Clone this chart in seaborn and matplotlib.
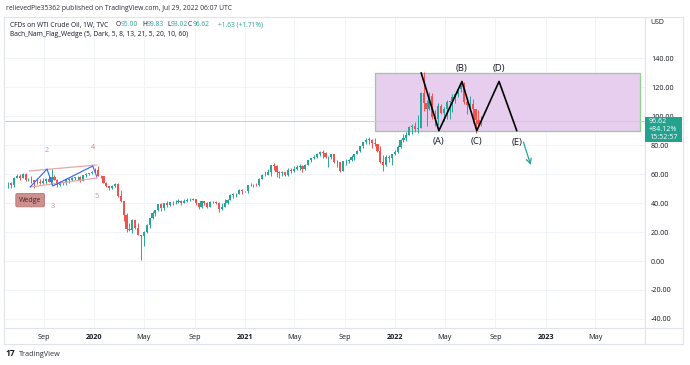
import matplotlib
matplotlib.use("Agg")
import matplotlib.pyplot as plt
import matplotlib.dates as mdates
from matplotlib.patches import Rectangle
from matplotlib.lines import Line2D
import numpy as np
import pandas as pd
import seaborn as sns

# ---------------- data ----------------
first_week = "2019-06-07"
first_open = 53.6
last_open = 95.00

closes = [
    # 2019
    53.99, 52.51, 57.43, 58.47, 57.51, 60.21, 55.63, 56.20, 55.66, 54.50,
    54.87, 54.17, 55.10, 56.52, 54.85, 58.09, 55.91, 52.81, 54.70, 53.78,
    56.66, 56.20, 57.24, 57.72, 57.77, 55.17, 59.20, 60.07, 60.44, 61.72,
    # 2020
    63.05, 59.04, 58.54, 54.19, 51.56, 50.32, 52.05, 53.38, 44.76, 41.28,
    31.73, 22.43, 21.51, 28.34, 22.76, 18.27, 16.94, 19.78, 24.74, 29.43,
    33.25, 35.49, 39.55, 36.26, 39.75, 38.49, 40.65, 40.55, 40.59, 41.29,
    40.27, 41.22, 42.01, 42.34, 42.97, 39.77, 37.33, 41.11, 40.25, 37.05,
    40.60, 40.88, 39.85, 35.79, 37.14, 40.13, 42.15, 45.53, 46.26, 46.57,
    49.10, 48.23,
    # 2021
    48.52, 52.24, 52.36, 52.27, 52.20, 56.85, 59.47, 59.24, 61.50, 66.09,
    65.61, 61.42, 60.97, 61.45, 59.32, 63.13, 62.14, 63.58, 64.90, 65.37,
    63.58, 66.32, 69.62, 70.91, 71.64, 74.05, 75.16, 74.56, 71.81, 72.07,
    73.95, 68.28, 68.44, 62.32, 68.74, 69.29, 69.72, 71.97, 73.98, 75.88,
    79.35, 82.28, 83.76, 83.57, 81.27, 80.79, 76.10, 68.15, 66.26, 71.67,
    70.86, 73.79, 75.21,
    # 2022
    78.90, 83.82, 85.14, 86.82, 92.31, 93.10, 91.07, 91.59, 115.68, 109.33,
    104.70, 113.90, 99.27, 98.26, 106.95, 102.07, 104.69, 109.77, 110.49, 113.23,
    115.07, 118.87, 120.67, 109.56, 107.62, 108.43, 104.79, 97.59, 94.70, 96.62,
]
highs = [
    54.5, 54.8, 58.2, 60.0, 59.9, 60.9, 60.6, 57.5, 58.8, 55.7,
    57.4, 56.5, 57.0, 57.3, 58.7, 63.4, 59.2, 56.3, 55.0, 54.9,
    56.9, 57.0, 57.9, 58.0, 58.9, 58.9, 59.4, 60.5, 61.1, 62.3,
    64.1, 65.7, 59.6, 59.0, 54.9, 51.9, 52.2, 54.0, 53.6, 48.7,
    36.3, 33.1, 26.1, 29.1, 28.4, 26.0, 18.3, 21.0, 25.6, 30.0,
    34.7, 35.5, 39.7, 40.4, 40.0, 41.6, 41.0, 41.4, 41.8, 42.5,
    42.3, 43.0, 43.3, 43.4, 43.8, 43.1, 39.7, 41.4, 41.1, 41.0,
    41.4, 41.6, 41.7, 40.8, 39.9, 43.0, 42.6, 46.0, 46.7, 47.2,
    49.4, 49.6,
    48.6, 52.7, 53.9, 53.5, 53.6, 57.0, 59.8, 62.3, 63.8, 66.4,
    67.9, 66.1, 62.3, 62.2, 61.8, 64.0, 64.0, 65.5, 66.5, 66.7,
    66.1, 66.9, 69.8, 71.0, 72.9, 74.3, 76.2, 76.9, 75.5, 72.3,
    74.0, 74.0, 69.8, 68.4, 69.0, 70.1, 70.4, 73.1, 74.2, 76.7,
    79.5, 82.4, 84.9, 85.4, 84.2, 84.9, 81.0, 79.2, 72.9, 72.9,
    72.9, 73.9, 77.0,
    80.2, 84.3, 87.6, 88.8, 93.2, 94.9, 95.8, 100.6, 116.6, 130.5,
    111.4, 116.5, 115.8, 104.1, 109.2, 108.6, 106.4, 111.4, 110.5, 115.1,
    115.1, 119.5, 123.4, 123.7, 111.0, 114.0, 111.6, 104.6, 104.0, 99.83,
]
lows = [
    50.6, 50.6, 51.3, 57.0, 55.8, 57.3, 55.0, 55.1, 53.6, 50.5,
    53.0, 53.1, 52.9, 52.9, 54.5, 57.7, 55.6, 50.9, 51.9, 52.5,
    52.4, 53.8, 55.4, 55.8, 55.8, 54.9, 55.1, 58.1, 59.7, 60.4,
    60.6, 58.7, 57.4, 53.9, 51.3, 49.3, 49.5, 51.2, 43.9, 40.9,
    27.3, 20.1, 20.6, 19.3, 22.0, 17.9, 0.5, 10.1, 19.0, 23.1,
    29.0, 31.2, 34.8, 34.7, 35.1, 37.0, 37.8, 38.6, 39.6, 40.4,
    38.7, 40.0, 41.0, 41.5, 42.0, 39.0, 36.1, 36.8, 38.6, 36.6,
    37.0, 39.8, 39.4, 33.6, 34.9, 37.2, 39.5, 42.0, 43.8, 44.5,
    46.4, 46.2,
    47.4, 47.2, 51.5, 51.4, 51.5, 52.1, 56.4, 58.6, 59.2, 58.8,
    63.1, 58.0, 57.3, 58.9, 58.4, 58.9, 60.5, 61.6, 63.0, 62.6,
    61.6, 62.7, 66.1, 68.6, 70.1, 71.0, 72.6, 71.3, 70.8, 65.0,
    70.6, 67.7, 65.2, 61.7, 62.5, 66.6, 67.6, 69.3, 70.0, 73.9,
    75.3, 78.3, 81.1, 80.8, 78.3, 79.5, 75.2, 67.4, 62.4, 65.7,
    68.5, 66.1, 73.2,
    74.3, 78.3, 82.2, 82.7, 86.7, 87.6, 89.2, 88.7, 95.1, 103.5,
    93.5, 104.3, 98.4, 93.5, 93.9, 101.5, 96.7, 98.1, 98.3, 102.9,
    108.8, 113.1, 116.4, 108.5, 101.5, 104.5, 95.1, 88.4, 94.2, 93.02,
]

price_ticks = [140, 120, 100, 80, 60, 40, 20, 0, -20, -40]
time_tick_dates = ["2019-09-01", "2020-01-01", "2020-05-01", "2020-09-01",
                   "2021-01-01", "2021-05-01", "2021-09-01", "2022-01-01",
                   "2022-05-01", "2022-09-01", "2023-01-01", "2023-05-01"]
time_tick_labels = ["Sep", "2020", "May", "Sep", "2021", "May", "Sep",
                    "2022", "May", "Sep", "2023", "May"]

box_dates = ["2021-11-13", "2023-08-18"]
box_prices = [90, 130]

abcde_dates = ["2022-03-05", "2022-04-17", "2022-06-12", "2022-07-18",
               "2022-09-10", "2022-10-23"]
abcde_prices = [130, 90, 124, 90, 124, 90]
abcde_labels = ["(A)", "(B)", "(C)", "(D)", "(E)"]
abcde_label_prices = [82.6, 132.8, 82.6, 132.8, 82.0]

arrow_dates = ["2022-11-06", "2022-11-28"]
arrow_prices = [84.0, 64.5]

wedge_dates = ["2019-07-30", "2019-09-09", "2019-09-23", "2019-12-29", "2020-01-08"]
wedge_prices = [51.1, 63.5, 51.8, 65.6, 58.0]
wedge_numbers = ["1", "2", "3", "4", "5"]
wedge_number_prices = [37.3, 76.0, 37.3, 78.7, 44.2]
wedge_upper_dates = ["2019-07-28", "2020-01-08"]
wedge_upper_prices = [62.2, 66.3]
wedge_lower_dates = ["2019-07-30", "2020-01-08"]
wedge_lower_prices = [51.1, 57.3]
wedge_tag_date = "2019-07-30"
wedge_tag_price = 42.0

last_price = 96.62

# ---------------- style ----------------
sns.set_theme(style="white")
plt.rcParams["font.family"] = ["Open Sans", "DejaVu Sans"]

UP = "#26a69a"
DOWN = "#ef5350"
TXT = "#131722"
GRID = "#f0f3fa"
FRAME = "#e0e3eb"

W, H = 690, 365
fig = plt.figure(figsize=(W / 100, H / 100), dpi=100)
fig.patch.set_facecolor("white")


def fx(px):
    return px / W


def fy(py):
    return 1 - py / H


ax = fig.add_axes([fx(5), fy(328), (645 - 5) / W, (328 - 17) / H])
ax.set_facecolor("white")

base = mdates.date2num(pd.Timestamp("2020-01-01"))
px_per_day = 150.5 / 365.25
ax.set_xlim(base + (5 - 94) / px_per_day, base + (645 - 94) / px_per_day)
px_per_unit = 1.448
ax.set_ylim((261 - 328) / px_per_unit, (261 - 17) / px_per_unit)

# candles
dates = pd.date_range(first_week, periods=len(closes), freq="7D")
xd = mdates.date2num(dates)
opens = [first_open] + closes[:-2] + [last_open]
o = np.array(opens)
c = np.array(closes)
hi = np.maximum(np.array(highs), np.maximum(o, c))
lo = np.minimum(np.array(lows), np.minimum(o, c))
cols = [UP if cc >= oo else DOWN for oo, cc in zip(o, c)]
ax.vlines(xd, lo, hi, colors=cols, linewidth=0.7, zorder=3)
body_h = np.maximum(np.abs(c - o), 0.35)
ax.bar(xd, body_h, bottom=np.minimum(o, c), width=5.2, color=cols,
       linewidth=0, zorder=4)

# grid / ticks
ax.set_yticks(price_ticks)
ax.set_yticklabels([f"{v:.2f}" for v in price_ticks])
ax.yaxis.tick_right()
tick_x = mdates.date2num(pd.to_datetime(time_tick_dates))
ax.set_xticks(tick_x)
ax.set_xticklabels(time_tick_labels)
for lab in ax.get_xticklabels():
    if lab.get_text().isdigit():
        lab.set_fontweight("bold")
ax.tick_params(axis="y", length=0, pad=4.2, labelsize=5.2, labelcolor=TXT)
ax.tick_params(axis="x", length=0, pad=4.5, labelsize=5.2, labelcolor=TXT)
ax.grid(True, color=GRID, linewidth=0.7, zorder=0)
for s in ax.spines.values():
    s.set_visible(False)

# purple box
bx = mdates.date2num(pd.to_datetime(box_dates))
ax.add_patch(Rectangle((bx[0], box_prices[0]), bx[1] - bx[0],
                       box_prices[1] - box_prices[0], facecolor="#e7cdee",
                       edgecolor="#8fd18f", linewidth=0.9, zorder=1))

# last price line
ax.axhline(last_price, color="#a8dcd5", linewidth=0.7, zorder=2)

# ABCDE pattern
ad = mdates.date2num(pd.to_datetime(abcde_dates))
pat = pd.DataFrame({"x": ad, "y": abcde_prices})
sns.lineplot(data=pat, x="x", y="y", sort=False, estimator=None, color="black",
             linewidth=1.2, ax=ax, zorder=6)
for lab, xx, yy in zip(abcde_labels, ad[1:], abcde_label_prices):
    ax.text(xx, yy, lab, ha="center", va="center", fontsize=6.8, color=TXT,
            zorder=7)

arx = mdates.date2num(pd.to_datetime(arrow_dates))
ax.annotate("", xy=(arx[1], arrow_prices[1]), xytext=(arx[0], arrow_prices[0]),
            arrowprops=dict(arrowstyle="->", color="#26a69a", lw=0.9,
                            mutation_scale=9), zorder=7)

# wedge drawings
wd = mdates.date2num(pd.to_datetime(wedge_dates))
wdf = pd.DataFrame({"x": wd[:4], "y": wedge_prices[:4]})
sns.lineplot(data=wdf, x="x", y="y", sort=False, estimator=None,
             color="#2962ff", linewidth=0.8, ax=ax, zorder=6)
ax.plot(wd[3:], wedge_prices[3:], color="#7e57c2", linewidth=0.8, zorder=6)
wu = mdates.date2num(pd.to_datetime(wedge_upper_dates))
wl = mdates.date2num(pd.to_datetime(wedge_lower_dates))
ax.plot(wu, wedge_upper_prices, color="#e9a7a7", linewidth=0.9, zorder=5)
ax.plot(wl, wedge_lower_prices, color="#e9a7a7", linewidth=0.9, zorder=5)
num_cols = ["#d9b3b3", "#d88a8a", "#c99a9a", "#e07a7a", "#c99a9a"]
for n, xx, yy, cc in zip(wedge_numbers, wd, wedge_number_prices, num_cols):
    ax.text(xx, yy, n, ha="center", va="center", fontsize=5.2, color=cc, zorder=7)
ax.text(mdates.date2num(pd.Timestamp(wedge_tag_date)), wedge_tag_price, "Wedge",
        ha="center", va="center", fontsize=5, color="#3b2a2a", zorder=8,
        bbox=dict(boxstyle="round,pad=0.45,rounding_size=0.2",
                  fc="#cf8f8f", ec="#b97474", lw=0.6))
ax.set_xlabel("")
ax.set_ylabel("")
if ax.get_legend():
    ax.get_legend().remove()

# ---------------- frame & chrome ----------------
def fline(x0, y0, x1, y1, color=FRAME, lw=0.8):
    fig.add_artist(Line2D([fx(x0), fx(x1)], [fy(y0), fy(y1)], color=color,
                          linewidth=lw))


fline(4, 17, 683, 17)
fline(4, 344, 683, 344)
fline(4, 17, 4, 344)
fline(683, 17, 683, 344)
fline(645, 17, 645, 344)
fline(4, 328, 683, 328)

fig.text(fx(6), fy(8), "relievedPie35362 published on TradingView.com, Jul 29, 2022 06:07 UTC",
         fontsize=4.9, color="#2a2e39", va="center", ha="left")

fig.text(fx(10), fy(25), "CFDs on WTI Crude Oil, 1W, TVC", fontsize=4.8,
         color=TXT, va="center", ha="left")
ohlc = [(116, "O", "95.00"), (142, "H", "99.83"), (167.5, "L", "93.02"),
        (188, "C", "96.62")]
for xp, letter, val in ohlc:
    fig.text(fx(xp), fy(25), letter, fontsize=4.8, color=TXT,
             va="center", ha="left")
    fig.text(fx(xp + 4.3 if letter != "L" else xp + 2.8), fy(25), val,
             fontsize=4.8, color=UP, va="center", ha="left")
fig.text(fx(218), fy(25), "+1.63 (+1.71%)", fontsize=4.8, color=UP,
         va="center", ha="left")
fig.text(fx(10), fy(35), "Bach_Nam_Flag_Wedge (5, Dark, 5, 8, 13, 21, 5, 20, 10, 60)",
         fontsize=4.8, color=TXT, va="center", ha="left")

fig.text(fx(650), fy(22), "USD", fontsize=5, color=TXT, va="center", ha="left")

# last price tag
fig.add_artist(Rectangle((fx(645), fy(142)), (682 - 645) / W, (142 - 117) / H,
                         transform=fig.transFigure, facecolor="#22a28f",
                         edgecolor="none", zorder=10))
for yy, s in [(121.5, "96.62"), (129.8, "+84.12%"), (137.8, "15:52:57")]:
    fig.text(fx(649), fy(yy), s, fontsize=5.1, color="white", va="center",
             ha="left", zorder=11)

# TradingView footer
fig.text(fx(5), fy(354), "17", fontsize=6, fontweight="bold", color="#131722",
         va="center", ha="left")
fig.text(fx(19), fy(354), "TradingView", fontsize=5.2, color="#2a2e39",
         va="center", ha="left")

fig.savefig("out.png", dpi=100, facecolor="white")
